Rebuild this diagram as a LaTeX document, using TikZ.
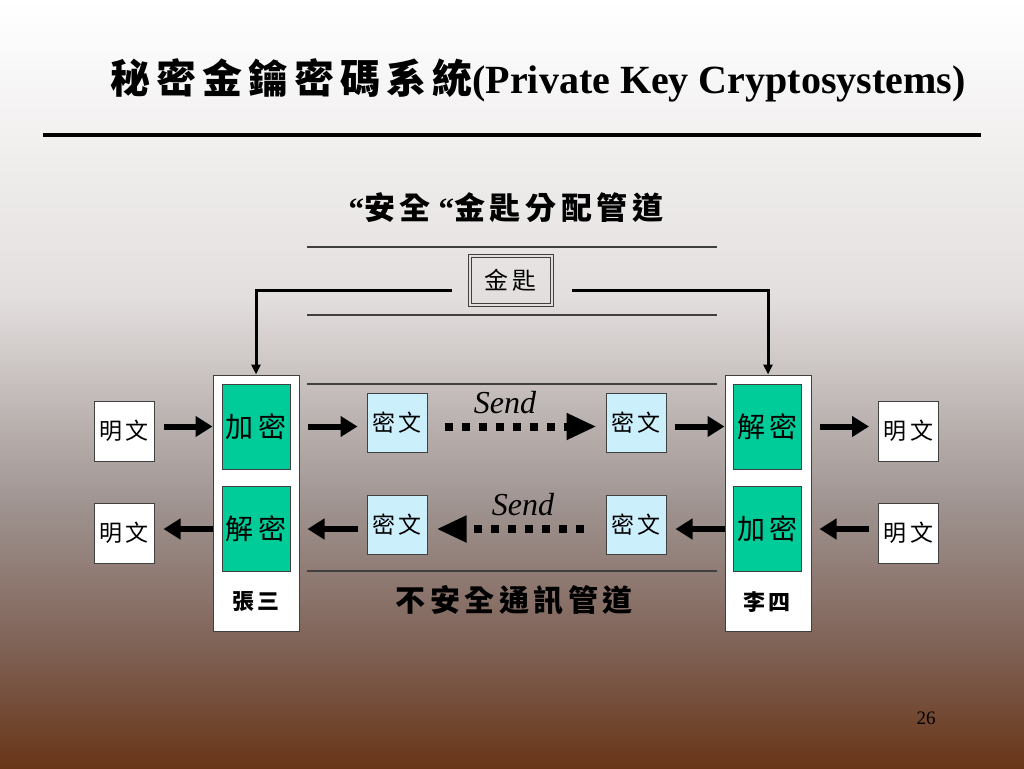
\documentclass[tikz,border=0pt]{standalone}
\usepackage{fontspec}
\setmainfont{Liberation Serif}
\newfontfamily\cjk{Noto Sans CJK TC}[LetterSpace=15]
\usetikzlibrary{arrows.meta}
\definecolor{bgA}{RGB}{226,222,221}
\definecolor{bgB}{RGB}{160,149,146}
\definecolor{bgC}{RGB}{126,96,84}
\definecolor{bgD}{RGB}{105,54,24}
\definecolor{procgreen}{RGB}{0,204,153}
\definecolor{edge}{RGB}{64,64,64}

\begin{document}
\begin{tikzpicture}[x=1pt,y=-1pt,
    box/.style={draw=edge,line width=1pt,inner sep=0pt,font=\cjk\fontsize{23}{23}\selectfont},
    plain/.style={box,fill=white,minimum width=60pt,minimum height=60pt},
    cipher/.style={box,fill=cyan!20,minimum width=60pt,minimum height=59pt},
    proc/.style={box,fill=procgreen,minimum width=68pt,minimum height=85pt,font=\cjk\fontsize{28}{28}\selectfont},
    person/.style={box,fill=white,minimum width=86pt,minimum height=256pt},
    keybox/.style={draw=edge,double=bgA,double distance=2pt,line width=1pt,minimum width=82pt,minimum height=49pt,inner sep=0pt,font=\cjk\fontsize{24}{24}\selectfont},
    namelbl/.style={font=\cjk\bfseries\fontsize{22}{22}\selectfont},
    sendlbl/.style={font=\itshape\fontsize{32}{32}\selectfont},
    rule/.style={edge,line width=1.3pt},
    bigarrow/.style={line width=6pt,-{Triangle[length=17pt,width=20pt]}},
    dots/.style={line width=8pt,dash pattern=on 8pt off 9pt,-{Triangle[length=30pt,width=25pt]}},
    keyline/.style={line width=3pt,-{Triangle[length=10pt,width=9pt]}}]
\useasboundingbox (0,0) rectangle (1024,768);
\shade[top color=white,bottom color=bgA] (0,0) rectangle (1024,301);
\shade[top color=bgA,bottom color=bgB] (0,300) rectangle (1024,501);
\shade[top color=bgB,bottom color=bgC] (0,500) rectangle (1024,651);
\shade[top color=bgC,bottom color=bgD] (0,650) rectangle (1024,768);

\node[font=\bfseries\fontsize{40}{40}\selectfont] (title) at (538,80) {{\cjk 秘密金鑰密碼系統}(Private Key Cryptosystems)};
\draw[line width=4pt] (43,135) -- (981,135);
\node[font=\bfseries\fontsize{31}{31}\selectfont] (safe) at (506,208) {“{\cjk 安全} “{\cjk 金匙分配管道}};

\draw[rule] (307,247) -- (717,247);
\draw[rule] (307,315) -- (717,315);
\draw[rule] (307,384) -- (717,384);
\draw[rule] (307,571) -- (717,571);

\node[keybox] (key) at (510.5,280) {金匙};
\node[person] (zhang) at (256,503) {};
\node[person] (li) at (768,503) {};
\node[proc] (encA) at (256,426.5) {加密};
\node[proc] (decA) at (256,529) {解密};
\node[proc] (decB) at (767.5,426.5) {解密};
\node[proc] (encB) at (767.5,529) {加密};
\node[namelbl] (zs) at (256,602) {張三};
\node[namelbl] (ls) at (767,602) {李四};
\node[plain] (ptA) at (124,431) {明文};
\node[plain] (ptB) at (124,533) {明文};
\node[plain] (ptC) at (908.5,431) {明文};
\node[plain] (ptD) at (908.5,533) {明文};
\node[cipher] (ctA) at (397,422.5) {密文};
\node[cipher] (ctB) at (636,422.5) {密文};
\node[cipher] (ctC) at (397,524.5) {密文};
\node[cipher] (ctD) at (636,524.5) {密文};
\node[sendlbl] (sendA) at (505,403) {Send};
\node[sendlbl] (sendB) at (523,505) {Send};
\node[font=\cjk\bfseries\fontsize{30}{30}\selectfont] (unsafe) at (514,600) {不安全通訊管道};
\node[font=\fontsize{19}{19}\selectfont] (pg) at (926,718) {26};

\coordinate (kl) at (452,290);
\coordinate (kr) at (572,290);
\draw[keyline] (kl) -| (zhang.north);
\draw[keyline] (kr) -| (li.north);

\draw[bigarrow,shorten <=9pt] (ptA.east |- encA) -- (zhang.west |- encA);
\draw[bigarrow,shorten <=8pt,shorten >=9pt] (zhang.east |- encA) -- (ctA.west |- encA);
\draw[dots,shorten <=17pt,shorten >=9pt] (ctA.east |- encA) -- (ctB.west |- encA);
\draw[bigarrow,shorten <=8pt] (ctB.east |- decB) -- (li.west |- decB);
\draw[bigarrow,shorten <=8pt,shorten >=9pt] (li.east |- decB) -- (ptC.west |- decB);
\draw[bigarrow,shorten <=9pt,shorten >=8pt] (ptD.west |- encB) -- (li.east |- encB);
\draw[bigarrow,shorten >=9pt] (li.west |- encB) -- (ctD.east |- encB);
\draw[dots,shorten <=22pt,shorten >=9pt] (ctD.west |- encB) -- (ctC.east |- encB);
\draw[bigarrow,shorten <=9pt,shorten >=8pt] (ctC.west |- decA) -- (zhang.east |- decA);
\draw[bigarrow,shorten >=9pt] (zhang.west |- decA) -- (ptB.east |- decA);
\end{tikzpicture}
\end{document}
